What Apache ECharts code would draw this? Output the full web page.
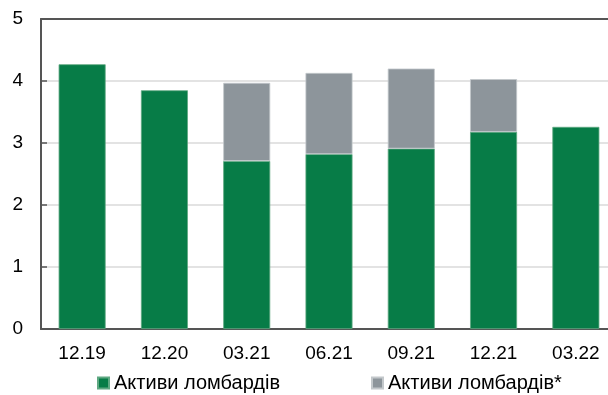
<!DOCTYPE html>
<html>
<head>
<meta charset="utf-8">
<script src="https://cdn.jsdelivr.net/npm/echarts@6/dist/echarts.min.js"></script>
<style>
  html, body { margin: 0; padding: 0; background: #fff; overflow: hidden; width: 608px; height: 395px; }
  /* plot area continues a few pixels past the right edge of the page */
  #chart { width: 617px; height: 395px; }
</style>
</head>
<body>
<div id="chart"></div>
<script>
// Quarter labels
const categories = ['12.19', '12.20', '03.21', '06.21', '09.21', '12.21', '03.22'];
// Pawnshop assets
const assetsMain = [4.27, 3.85, 2.71, 2.82, 2.91, 3.18, 3.26];
// Additional pawnshop assets (*), stacked on top
const assetsExtra = [null, null, 1.26, 1.31, 1.29, 0.85, null];
const seriesNames = ['Активи ломбардів', 'Активи ломбардів*'];
const yTicks = { min: 0, max: 5, interval: 1 };

const GREEN = '#077C47';
const GRAY = '#8D959B';
const FONT = '"Liberation Sans", Arial, sans-serif';

const chart = echarts.init(document.getElementById('chart'), null, { renderer: 'canvas' });

const legendBase = {
  padding: 0,
  itemWidth: 11, itemHeight: 11, itemGap: 0,
  icon: 'rect',
  textStyle: { fontFamily: FONT, fontSize: 20, color: '#000', padding: [0, 0, 0, 0] }
};

chart.setOption({
  animation: false,
  textStyle: { fontFamily: FONT },
  grid: { left: 41, right: 0, top: 19, bottom: 66, containLabel: false },
  legend: [
    Object.assign({ data: [seriesNames[0]], left: 97, top: 373 }, legendBase),
    Object.assign({ data: [seriesNames[1]], left: 371, top: 373 }, legendBase)
  ],
  xAxis: [
    {
      type: 'category',
      data: categories,
      axisLine: { lineStyle: { color: '#555', width: 2 } },
      axisTick: { inside: true, length: 6, lineStyle: { color: '#555', width: 1.5 } },
      axisLabel: { fontFamily: FONT, fontSize: 19, color: '#000', margin: 15 }
    },
    {
      // top border line of the plot area
      type: 'category',
      data: categories,
      position: 'top',
      axisLine: { onZero: false, lineStyle: { color: '#555', width: 2 } },
      axisTick: { show: false },
      axisLabel: { show: false }
    }
  ],
  yAxis: {
    type: 'value',
    min: yTicks.min, max: yTicks.max, interval: yTicks.interval,
    axisLine: { show: true, lineStyle: { color: '#555', width: 2 } },
    axisTick: { show: true, inside: true, length: 6, lineStyle: { color: '#555', width: 1.5 } },
    axisLabel: { fontFamily: FONT, fontSize: 19, color: '#000', margin: 18 },
    splitLine: { lineStyle: { color: '#dadada', width: 1.5 } }
  },
  series: [
    {
      name: seriesNames[0],
      type: 'bar',
      stack: 'total',
      data: assetsMain,
      barWidth: 47,
      itemStyle: { color: GREEN, borderColor: '#5fa882', borderWidth: 0.8 }
    },
    {
      name: seriesNames[1],
      type: 'bar',
      stack: 'total',
      data: assetsExtra,
      barWidth: 47,
      itemStyle: { color: GRAY, borderColor: '#c3c8cb', borderWidth: 0.8 }
    }
  ]
});
</script>
</body>
</html>
